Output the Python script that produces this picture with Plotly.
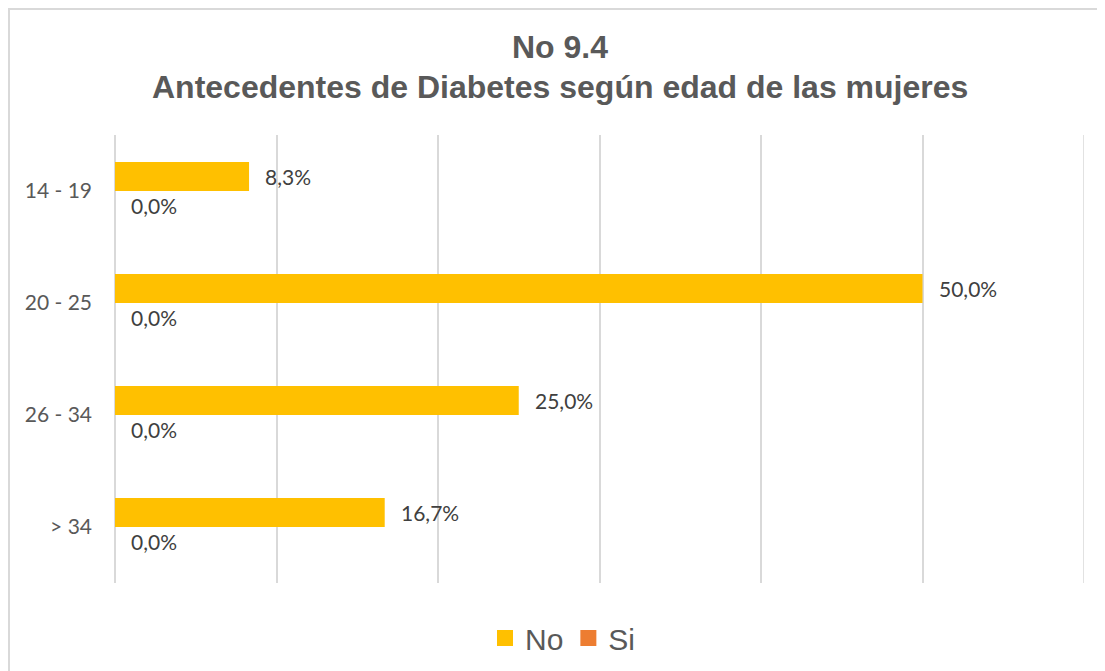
import plotly.graph_objects as go

# Datos
edades = ["14 - 19", "20 - 25", "26 - 34", "> 34"]
no_vals = [0.083, 0.50, 0.25, 0.167]
si_vals = [0.0, 0.0, 0.0, 0.0]
series = ["No", "Si"]
colores = ["#FFC000", "#ED7D31"]
fuente = "Lato"
x_max = 0.6

# la página tiene un margen de 8 px: se trabaja en coordenadas de la figura
OFF = 8
L, R, T, B = 115 - OFF, 1084 - OFF, 135 - OFF, 583 - OFF
ancho, alto = R - L, B - T


def px_x(p):
    return (p - OFF - L) / ancho


def px_y(p):
    return (B - (p - OFF)) / alto


fig = go.Figure()
for nombre, vals, col in zip(series, [no_vals, si_vals], colores):
    fig.add_trace(go.Bar(y=edades, x=vals, name=nombre, orientation="h",
                         marker=dict(color=col, line=dict(width=0)),
                         showlegend=False))
# entradas de leyenda con cuadrados más grandes
for nombre, col in zip(series, colores):
    fig.add_trace(go.Scatter(x=[None], y=[None], mode="markers", name=nombre,
                             marker=dict(symbol="square", size=16, color=col)))

# etiquetas de datos (coma decimal)
anots = []
for vals, dy in [(no_vals, 14.5), (si_vals, -14.5)]:
    for cat, v in zip(edades, vals):
        anots.append(dict(x=v, y=cat, xref="x", yref="y",
                          text=f"{v*100:.1f}%".replace(".", ","),
                          showarrow=False, xanchor="left", yanchor="middle",
                          xshift=14, yshift=dy,
                          font=dict(family=fuente, size=21, color="#404040")))

# título en dos líneas
for txt, yp in [("<b>No 9.4</b>", 47),
                ("<b>Antecedentes de Diabetes según edad de las mujeres</b>", 87)]:
    anots.append(dict(text=txt, xref="paper", yref="paper", x=px_x(560), y=px_y(yp),
                      showarrow=False, xanchor="center", yanchor="middle",
                      font=dict(family="Liberation Sans", size=32, color="#595959")))

fig.update_layout(
    width=1105 - OFF, height=671 - OFF,
    margin=dict(l=L, r=1105 - OFF - R, t=T, b=671 - OFF - B, autoexpand=False),
    paper_bgcolor="white", plot_bgcolor="white",
    barmode="group", bargap=0.48, bargroupgap=0,
    legend=dict(orientation="h", x=px_x(563), xanchor="center",
                y=px_y(638), yanchor="middle", borderwidth=0,
                font=dict(family="Liberation Sans", size=30, color="#595959"),
                traceorder="normal"),
    annotations=anots,
    shapes=[dict(type="rect", xref="paper", yref="paper",
                 x0=px_x(9), x1=px_x(1120), y0=px_y(700), y1=px_y(9),
                 line=dict(color="#D9D9D9", width=2), layer="below"),
            # última línea de cuadrícula en el borde derecho del eje
            dict(type="line", xref="x", yref="paper", x0=x_max, x1=x_max,
                 y0=0, y1=1, line=dict(color="#D9D9D9", width=1.5), layer="below")],
)

fig.update_xaxes(range=[0, x_max], dtick=0.1, showticklabels=False,
                 showgrid=True, gridcolor="#D9D9D9", gridwidth=1.5,
                 zeroline=True, zerolinecolor="#D9D9D9", zerolinewidth=1.5,
                 showline=False)
fig.update_yaxes(autorange="reversed", showgrid=False, showline=False,
                 ticks="", ticklabelstandoff=22,
                 tickfont=dict(family=fuente, size=21, color="#595959"))

fig.write_html("out.html")
